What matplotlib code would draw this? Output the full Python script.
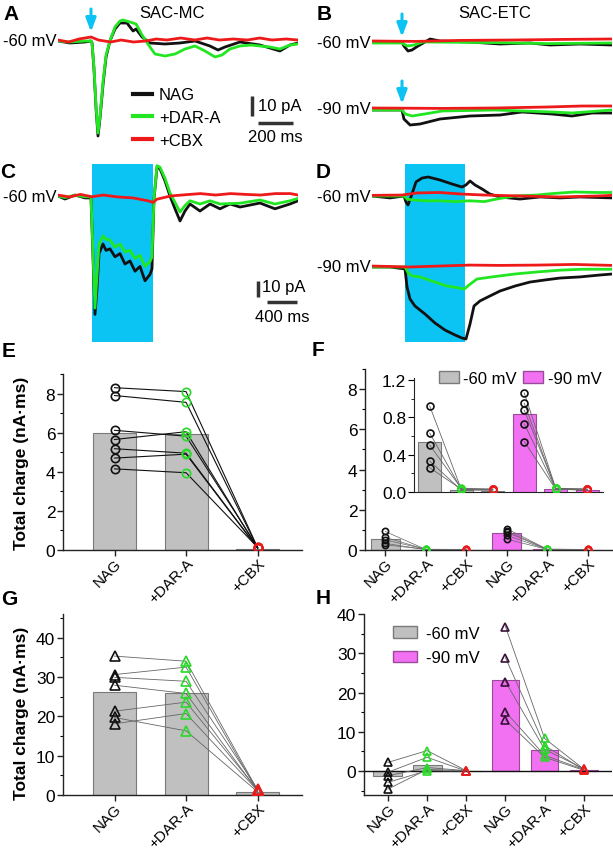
import matplotlib
matplotlib.use("Agg")
import matplotlib.pyplot as plt
from matplotlib.patches import Patch
from matplotlib.ticker import MultipleLocator, FormatStrFormatter

plt.rcParams["font.family"] = ["Liberation Sans", "DejaVu Sans"]
plt.rcParams["axes.unicode_minus"] = False

W, H = 613, 853

BLACK = "#111111"
GREEN = "#22e622"
RED = "#ee1a1a"
CYAN = "#0cc4f4"
GRAY = "#c0c0c0"
GRAY_EDGE = "#7a7a7a"
PINK = "#f270f2"
PINK_EDGE = "#9a4a9a"

# ---------------- traces (time in ms, current in pA) ----------------
# A: SAC-MC, flash at -60 mV
A_NAG_T = [0, 68, 154, 188, 194, 205, 217, 228, 239, 257, 274, 296, 325, 353, 393, 428, 445,
           479, 524, 610, 695, 781, 866, 912, 952, 1037, 1151, 1265, 1322, 1368]
A_NAG_I = [0, -1, -0.5, 0, -1, -14, -34, -47.5, -39, -21.5, -8, 0, 6, 9, 9, 5, 6,
           2, -1, -1.5, -1, 0, -2.5, -4.5, -3, -0.5, -2, -5, -2, -1]
A_DAR_T = [0, 68, 154, 188, 194, 205, 217, 228, 239, 257, 274, 296, 325, 353, 370, 410, 445,
           479, 524, 553, 610, 667, 724, 781, 838, 895, 935, 980, 1037, 1100, 1151, 1208,
           1265, 1322, 1368]
A_DAR_I = [0, -0.5, 0, 0, -1, -13, -33, -46, -38, -20, -7, 0, 7, 10, 10.5, 9.5, 8.5,
           3, -3, -6.5, -7.5, -6.5, -4, -2.5, -5, -8, -7, -4, -2.5, -2, -2.5, -3,
           -4, -2, -1.5]
A_CBX_T = [0, 60, 120, 188, 230, 300, 360, 430, 500, 560, 620, 700, 780, 850, 920, 1000,
           1080, 1150, 1220, 1300, 1368]
A_CBX_I = [0.5, -0.5, 1, 2, 0.5, -0.5, 0.5, -0.5, 0, 1, 0.5, 1.5, 0.5, 1.5, 0.5, 1,
           0.5, 1.5, 0.5, 1, 0.5]
A_STIM = 188

# B: SAC-ETC, flash at -60 and -90 mV
B60_NAG_T = [0, 171, 182, 205, 228, 262, 302, 331, 388, 559, 730, 901, 1015, 1186, 1368]
B60_NAG_I = [0, 0, -2, -4.5, -4, -2, 0, 1.5, 0.5, 0, -1, -0.5, -1.5, -1, -1.5]
B60_DAR_T = [0, 171, 200, 240, 290, 700, 1000, 1368]
B60_DAR_I = [-0.5, -0.5, -2, -1.5, 0, -0.3, -0.8, -0.5]
B60_CBX_T = [0, 250, 500, 800, 1100, 1368]
B60_CBX_I = [0.5, 0.3, 0.8, 1, 1.3, 1.5]
B90_NAG_T = [0, 171, 182, 217, 274, 388, 559, 730, 855, 1026, 1140, 1254, 1368]
B90_NAG_I = [-0.5, -0.5, -5, -8, -7.5, -5, -3.5, -3, -1.5, -2.5, -3.5, -2, -2]
B90_DAR_T = [0, 171, 190, 228, 300, 400, 700, 1026, 1140, 1368]
B90_DAR_I = [-0.5, -0.5, -2.5, -3.5, -2.5, -1, -0.5, -1.5, -2, -0.5]
B90_CBX_T = [0, 400, 700, 1000, 1200, 1368]
B90_CBX_I = [0.5, 0.3, 0.5, 1, 1.5, 1.5]
B_STIM = 171

# C: SAC-MC, long light step at -60 mV
C_NAG_T = [0, 93, 227, 360, 440, 467, 493, 520, 547, 600, 640, 693, 760, 827, 893, 960, 1027,
           1093, 1160, 1227, 1253, 1280, 1320, 1360, 1427, 1493, 1560, 1627, 1693, 1760,
           1893, 2027, 2160, 2293, 2427, 2693, 2893, 3093, 3200]
C_NAG_I = [0, -1.9, 0.6, -1.2, -1.2, -39, -74, -58, -36, -30, -34, -33, -38, -36, -42.5,
           -40.6, -47, -44, -53, -49, -45.6, -2, 18, 17, 9.4, 0, -8, -15.6, -9.4, -5,
           -9.4, -5, -8, -5, -6.9, -4.4, -8, -5, -3]
C_DAR_T = [0, 93, 227, 360, 440, 467, 493, 520, 547, 600, 640, 693, 760, 827, 893, 960, 1027,
           1093, 1160, 1227, 1253, 1280, 1320, 1360, 1427, 1493, 1560, 1627, 1693, 1760,
           1893, 2027, 2160, 2427, 2693, 2893, 3093, 3200]
C_DAR_I = [0, -1, 0.5, -0.5, -0.5, -36, -70, -50, -30, -25, -27, -27.5, -32, -30, -35, -34,
           -39, -37, -44, -41, -38, -1, 19, 18, 11, 2, -4, -10, -6, -3,
           -5, -3, -5, -4.5, -2.5, -5, -3, -1.5]
C_CBX_T = [0, 150, 300, 450, 600, 800, 1000, 1200, 1267, 1320, 1500, 1700, 1900, 2100, 2300,
           2500, 2700, 2900, 3100, 3200]
C_CBX_I = [0.6, -0.6, 1, -0.5, 0.6, -0.6, -1.2, -3, -4, -2, 0, 0.8, 1.5, 0.6, 1.5,
           1, 0.6, 1.5, 1.5, 0.6]
C_LIGHT = (455, 1265)

# D: SAC-ETC, long light step at -60 and -90 mV
D60_NAG_T = [0, 240, 427, 453, 480, 533, 587, 667, 747, 907, 1067, 1200, 1253, 1307, 1373,
             1467, 1573, 1707, 1973, 2240, 2507, 2773, 3200]
D60_NAG_I = [0, -1.2, 0, -3.8, -5.6, 1.2, 8.8, 11.2, 11.9, 10, 7.5, 5.6, 6.9, 9.4, 6.9,
             4.4, 1.2, -0.6, -1.9, -0.6, -1.2, -0.6, -1.2]
D60_DAR_T = [0, 427, 470, 560, 700, 900, 1100, 1300, 1500, 1650, 1900, 2200, 2400, 2700,
             3000, 3200]
D60_DAR_I = [0, 0, -2, -2.5, -3, -3, -3.5, -3, -3.5, -2, 0, 0.6, 1.5, 2.5, 2.2, 2.2]
D60_CBX_T = [0, 400, 600, 900, 1200, 1500, 2000, 2500, 3000, 3200]
D60_CBX_I = [0.4, 0.6, 1.9, 2.2, 1.2, 0.6, 0, -0.6, 0, 0.4]
D90_NAG_T = [0, 240, 440, 467, 507, 573, 707, 840, 973, 1107, 1200, 1253, 1307, 1360, 1440,
             1573, 1707, 1907, 2107, 2307, 2507, 2773, 3040, 3200]
D90_NAG_I = [0, 0, -1.2, -12.5, -20, -24.4, -29.4, -35, -39.4, -42.5, -44.4, -45, -35.6,
             -24.4, -21.2, -18.1, -15, -11.9, -9.4, -8.1, -6.9, -6.2, -5, -4.4]
D90_DAR_T = [0, 440, 480, 530, 640, 800, 1000, 1150, 1230, 1300, 1400, 1600, 1900, 2200,
             2500, 2800, 3200]
D90_DAR_I = [0, 0, -3.4, -5.5, -6.2, -8.8, -11.9, -13, -13.8, -11, -7.5, -6.2, -4.4, -3.1,
             -2, -1.4, -1.4]
D90_CBX_T = [0, 500, 900, 1300, 1700, 2200, 2700, 3200]
D90_CBX_I = [0.6, 0, 0.6, 1.2, 1, 1.2, 1.6, 1]
D_LIGHT = (440, 1240)

# ---------------- total charge (nA*ms) ----------------
CONDS = ["NAG", "+DAR-A", "+CBX"]

E_NAG = [8.30, 7.90, 6.12, 5.65, 5.18, 4.70, 4.15]
E_DAR = [8.10, 7.55, 5.82, 6.05, 4.95, 4.90, 3.95]
E_CBX = [0.12, 0.10, 0.14, 0.08, 0.11, 0.09, 0.13]
E_BAR = [6.0, 5.92, 0.05]

F60_NAG = [0.92, 0.63, 0.50, 0.33, 0.26]
F60_DAR = [0.03, 0.03, 0.04, 0.02, 0.03]
F60_CBX = [0.03, 0.02, 0.03, 0.02, 0.03]
F90_NAG = [1.06, 0.95, 0.875, 0.73, 0.54]
F90_DAR = [0.04, 0.03, 0.04, 0.03, 0.03]
F90_CBX = [0.03, 0.02, 0.03, 0.02, 0.03]
F_BAR60 = [0.53, 0.02, 0.01]
F_BAR90 = [0.83, 0.03, 0.02]

G_NAG = [35.3, 30.6, 29.9, 27.9, 21.3, 19.7, 18.1]
G_DAR = [34.0, 32.5, 28.9, 25.8, 23.6, 16.3, 20.7]
G_CBX = [1.2, 0.9, 1.5, 1.0, 1.3, 0.8, 1.1]
G_BAR = [26.1, 25.8, 0.7]

H60_NAG = [2.2, -0.3, -1.2, -2.9, -4.6]
H60_DAR = [5.2, 3.5, 0.9, 0.1, 0.4]
H60_CBX = [0.1, 0.0, 0.1, 0.0, 0.1]
H90_NAG = [36.8, 28.9, 22.8, 15.1, 13.0]
H90_DAR = [8.3, 6.5, 5.5, 4.0, 3.5]
H90_CBX = [0.5, 0.3, 0.6, 0.4, 0.2]
H_BAR60 = [-1.3, 1.6, 0.1]
H_BAR90 = [23.2, 5.3, 0.2]


fig = plt.figure(figsize=(W / 100, H / 100), dpi=100)


def box(x0, y0, x1, y1):
    return [x0 / W, 1 - y1 / H, (x1 - x0) / W, (y1 - y0) / H]


def ftext(x, y, s, **kw):
    kw.setdefault("fontsize", 12)
    kw.setdefault("va", "center")
    fig.text(x / W, 1 - y / H, s, **kw)


def trace_ax(x0, x1, y0, y1, ybase, tspan, pa_per_px):
    ax = fig.add_axes(box(x0, y0, x1, y1))
    ax.set_xlim(0, tspan)
    ax.set_ylim(-(y1 - ybase) * pa_per_px, (ybase - y0) * pa_per_px)
    ax.axis("off")
    return ax


def draw_traces(ax, sets, offset=0.0, lw=2.0):
    lines = []
    for (t, i), c in zip(sets, [BLACK, GREEN, RED]):
        ln, = ax.plot(t, [v + offset for v in i], color=c, lw=lw, solid_joinstyle="round")
        lines.append(ln)
    return lines


def stim_arrow(ax, t, tail, tip):
    ax.annotate("", xy=(t, tip), xytext=(t, tail),
                arrowprops=dict(arrowstyle="-|>,head_width=0.3,head_length=0.8",
                                color=CYAN, lw=2.2, shrinkA=0, shrinkB=0))


def bar_line(ax, xs, ys):
    ax.plot(xs, ys, color="#333333", lw=2.5, solid_capstyle="butt")


# ---- A ----
axA = trace_ax(58, 298, 0, 150, 42, 1368, 0.5)
linesA = draw_traces(axA, [(A_NAG_T, A_NAG_I), (A_DAR_T, A_DAR_I), (A_CBX_T, A_CBX_I)])
stim_arrow(axA, A_STIM, 16, 4.5)
bar_line(axA, [1106, 1106], [-27.5, -37.5])   # 10 pA
bar_line(axA, [1140, 1340], [-41, -41])       # 200 ms
axA.text(1140, -32.5, "10 pA", fontsize=12, va="center", ha="left")
axA.text(1240, -48, "200 ms", fontsize=12, va="center", ha="center")
legA = axA.legend(linesA, CONDS, loc="upper left", bbox_to_anchor=(0.3125, 0.41),
                  frameon=False, fontsize=12, handlelength=1.15, handletextpad=0.4,
                  labelspacing=0.45, borderpad=0, borderaxespad=0)
for ln in legA.get_lines():
    ln.set_linewidth(3)
ftext(11, 14, "A", fontsize=15, fontweight="bold", ha="center")
ftext(172, 13, "SAC-MC", ha="center")
ftext(57, 42, "-60 mV", ha="right")

# ---- B ----
axB = trace_ax(372, 612, 0, 150, 43, 1368, 0.5)
B_OFF = (43 - 110) * 0.5
draw_traces(axB, [(B60_NAG_T, B60_NAG_I), (B60_DAR_T, B60_DAR_I), (B60_CBX_T, B60_CBX_I)])
draw_traces(axB, [(B90_NAG_T, B90_NAG_I), (B90_DAR_T, B90_DAR_I), (B90_CBX_T, B90_CBX_I)],
            offset=B_OFF)
stim_arrow(axB, B_STIM, 14, 2.5)
stim_arrow(axB, B_STIM, 14 + B_OFF, 2.5 + B_OFF)
ftext(324, 14, "B", fontsize=15, fontweight="bold", ha="center")
ftext(495, 13, "SAC-ETC", ha="center")
ftext(371, 43, "-60 mV", ha="right")
ftext(371, 110, "-90 mV", ha="right")

# ---- C ----
axC = trace_ax(58, 298, 160, 345, 197, 3200, 0.625)
axC.axvspan(*C_LIGHT, ymin=2 / 185, ymax=180 / 185, color=CYAN, lw=0, zorder=0)
draw_traces(axC, [(C_NAG_T, C_NAG_I), (C_DAR_T, C_DAR_I), (C_CBX_T, C_CBX_I)])
bar_line(axC, [2667, 2667], [-53, -63])       # 10 pA
bar_line(axC, [2787, 3187], [-66, -66])       # 400 ms
axC.text(2720, -56.5, "10 pA", fontsize=12, va="center", ha="left")
axC.text(2987, -75, "400 ms", fontsize=12, va="center", ha="center")
ftext(8, 173, "C", fontsize=15, fontweight="bold", ha="center")
ftext(57, 197, "-60 mV", ha="right")

# ---- D ----
axD = trace_ax(372, 612, 160, 345, 197, 3200, 0.625)
D_OFF = (197 - 268) * 0.625
axD.axvspan(*D_LIGHT, ymin=2 / 185, ymax=180 / 185, color=CYAN, lw=0, zorder=0)
draw_traces(axD, [(D60_NAG_T, D60_NAG_I), (D60_DAR_T, D60_DAR_I), (D60_CBX_T, D60_CBX_I)])
draw_traces(axD, [(D90_NAG_T, D90_NAG_I), (D90_DAR_T, D90_DAR_I), (D90_CBX_T, D90_CBX_I)],
            offset=D_OFF)
ftext(323, 172, "D", fontsize=15, fontweight="bold", ha="center")
ftext(371, 197, "-60 mV", ha="right")
ftext(371, 268, "-90 mV", ha="right")


# ---------------- bar panels ----------------
def bar_ax(x0, y0, x1, y1, xlim, ylim, major, minor, labels):
    ax = fig.add_axes(box(x0, y0, x1, y1))
    ax.set_xlim(*xlim)
    ax.set_ylim(*ylim)
    for s in ("top", "right"):
        ax.spines[s].set_visible(False)
    for s in ("left", "bottom"):
        ax.spines[s].set_linewidth(1.0)
        ax.spines[s].set_color("#222222")
    ax.yaxis.set_major_locator(MultipleLocator(major))
    ax.yaxis.set_minor_locator(MultipleLocator(minor))
    ax.tick_params(axis="both", which="major", direction="out", length=4, width=1,
                   labelsize=12.5, pad=1.5, color="#222222")
    ax.tick_params(axis="y", which="minor", direction="out", length=2.5, width=0.8)
    if labels is not None:
        ax.set_xticks(range(len(labels)))
        ax.set_xticklabels(labels, rotation=45, ha="right", va="top",
                           rotation_mode="anchor", fontsize=11)
        ax.tick_params(axis="x", pad=0)
    return ax


def paired(ax, x0, groups, colors, marker, ms, lcolor, lw):
    n = len(groups[0])
    for k in range(n):
        ax.plot([x0 + j for j in range(len(groups))], [g[k] for g in groups],
                color=lcolor, lw=lw, zorder=3)
    for j, (g, c) in enumerate(zip(groups, colors)):
        ax.plot([x0 + j] * len(g), g, ls="none", marker=marker, ms=ms, mfc="none",
                mec=c, mew=1.2, zorder=4)


PT_COLORS = ["#111111", "#2ad82a", "#e81c1c"]

# ---- E ----
axE = bar_ax(63, 375, 302, 551, (-0.72, 2.62), (0, 9), 2, 1, CONDS)
axE.bar(range(3), E_BAR, width=0.6, color=GRAY, edgecolor=GRAY_EDGE, lw=0.8, zorder=2)
paired(axE, 0, [E_NAG, E_DAR, E_CBX], PT_COLORS, "o", 6, "#111111", 0.8)
ftext(9, 352, "E", fontsize=15, fontweight="bold", ha="center")
ftext(22, 463, "Total charge (nA\u00b7ms)", fontsize=12.5, fontweight="bold",
      rotation=90, ha="center")

# ---- F ----
F_LABELS = CONDS + CONDS
axF = bar_ax(365, 370, 612, 551, (-0.5, 5.6), (0, 9), 2, 1, F_LABELS)
axF.bar(range(3), F_BAR60, width=0.72, color=GRAY, edgecolor=GRAY_EDGE, lw=0.8, zorder=2)
axF.bar(range(3, 6), F_BAR90, width=0.72, color=PINK, edgecolor=PINK_EDGE, lw=0.8, zorder=2)
paired(axF, 0, [F60_NAG, F60_DAR, F60_CBX], PT_COLORS, "o", 4.5, "#666666", 0.5)
paired(axF, 3, [F90_NAG, F90_DAR, F90_CBX], PT_COLORS, "o", 4.5, "#666666", 0.5)
ftext(318, 351, "F", fontsize=15, fontweight="bold", ha="center")

axFi = fig.add_axes(box(414, 379, 603, 493))
axFi.set_xlim(-0.5, 5.5)
axFi.set_ylim(0, 1.22)
for s in ("top", "right"):
    axFi.spines[s].set_visible(False)
for s in ("left", "bottom"):
    axFi.spines[s].set_color("#222222")
axFi.yaxis.set_major_locator(MultipleLocator(0.4))
axFi.yaxis.set_minor_locator(MultipleLocator(0.2))
axFi.yaxis.set_major_formatter(FormatStrFormatter("%.1f"))
axFi.tick_params(axis="y", which="major", direction="out", length=4, labelsize=12.5, pad=1.5)
axFi.tick_params(axis="y", which="minor", direction="out", length=2.5)
axFi.set_xticks([])
axFi.patch.set_alpha(0)
axFi.bar(range(3), F_BAR60, width=0.73, color=GRAY, edgecolor=GRAY_EDGE, lw=0.8, zorder=2)
axFi.bar(range(3, 6), F_BAR90, width=0.73, color=PINK, edgecolor=PINK_EDGE, lw=0.8, zorder=2)
paired(axFi, 0, [F60_NAG, F60_DAR, F60_CBX], PT_COLORS, "o", 5, "#666666", 0.6)
paired(axFi, 3, [F90_NAG, F90_DAR, F90_CBX], PT_COLORS, "o", 5, "#666666", 0.6)
handles = [Patch(facecolor=GRAY, edgecolor=GRAY_EDGE), Patch(facecolor=PINK, edgecolor=PINK_EDGE)]
axFi.legend(handles, ["-60 mV", "-90 mV"], ncol=2, loc="upper left",
            bbox_to_anchor=(0.132, 1.06), frameon=False, fontsize=12, handlelength=1.2,
            handleheight=0.7, handletextpad=0.25, columnspacing=0.4, borderpad=0,
            borderaxespad=0)

# ---- G ----
axG = bar_ax(63, 615, 302, 796, (-0.72, 2.62), (0, 46), 10, 5, CONDS)
axG.bar(range(3), G_BAR, width=0.6, color=GRAY, edgecolor=GRAY_EDGE, lw=0.8, zorder=2)
paired(axG, 0, [G_NAG, G_DAR, G_CBX], PT_COLORS, "^", 6.5, "#666666", 0.6)
ftext(9, 600, "G", fontsize=15, fontweight="bold", ha="center")
ftext(22, 713, "Total charge (nA\u00b7ms)", fontsize=12.5, fontweight="bold",
      rotation=90, ha="center")

# ---- H ----
axH = bar_ax(364, 615, 612, 796, (-0.61, 5.72), (-6.1, 40), 10, 5, F_LABELS)
axH.axhline(0, color="#111111", lw=1.0, zorder=3)
axH.bar(range(3), H_BAR60, width=0.74, color=GRAY, edgecolor=GRAY_EDGE, lw=0.8, zorder=2)
axH.bar(range(3, 6), H_BAR90, width=0.7, color=PINK, edgecolor=PINK_EDGE, lw=0.8, zorder=2)
paired(axH, 0, [H60_NAG, H60_DAR, H60_CBX], PT_COLORS, "^", 6, "#666666", 0.6)
paired(axH, 3, [H90_NAG, H90_DAR, H90_CBX], ["#3a103a", "#2ad82a", "#e81c1c"], "^", 6,
       "#666666", 0.6)
axH.legend(handles, ["-60 mV", "-90 mV"], loc="upper left", bbox_to_anchor=(0.117, 0.934),
           frameon=False, fontsize=12, handlelength=1.45, handleheight=0.72,
           handletextpad=0.5, labelspacing=0.56, borderpad=0, borderaxespad=0)
ftext(323, 598, "H", fontsize=15, fontweight="bold", ha="center")

fig.savefig("out.png", dpi=100)
